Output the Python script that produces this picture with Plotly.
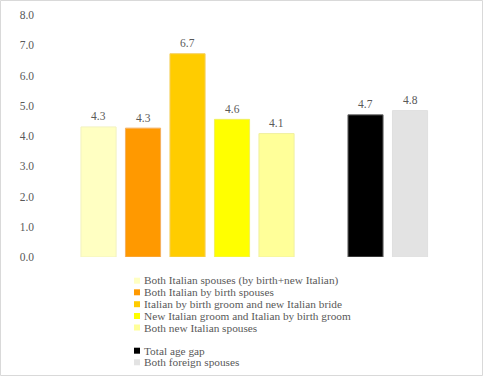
import plotly.graph_objects as go

# ---- data ----
categories = [
    "Both Italian spouses (by birth+new Italian)",
    "Both Italian by birth spouses",
    "Italian by birth groom and new Italian bride",
    "New Italian groom and Italian by birth groom",
    "Both new Italian spouses",
    " ",
    "Total age gap",
    "Both foreign spouses",
]
values = [4.3, 4.26, 6.72, 4.55, 4.08, None, 4.7, 4.84]
value_labels = ["4.3", "4.3", "6.7", "4.6", "4.1", "", "4.7", "4.8"]
colors = ["#FFFFC2", "#FF9900", "#FFCC00", "#FFFF00", "#FFFF99", "#FFFFFF", "#000000", "#E3E3E3"]
line_colors = ["#F2F2C0", "#F5B060", "#F5D060", "#F0F060", "#F0F0A0", "#FFFFFF", "#6E6E6E", "#E0E0E0"]
tick_vals = [0, 1, 2, 3, 4, 5, 6, 7, 8]
tick_text = ["0.0", "1.0", "2.0", "3.0", "4.0", "5.0", "6.0", "7.0", "8.0"]

W, H = 483, 376
ML, MR, MT, MB = 40, 13, 15, 119
PW, PH = W - ML - MR, H - MT - MB

def px(p):
    return (p - ML) / PW

def py(q):
    return (H - MB - q) / PH

FONT = "Liberation Serif"
GREY = "#595959"

fig = go.Figure()
fig.add_trace(go.Bar(
    x=categories,
    y=values,
    marker=dict(color=colors, line=dict(color=line_colors, width=1)),
    showlegend=False,
    hoverinfo="x+y",
))

shapes = []
annotations = []

# value labels above the bars
for cat, v, lab in zip(categories, values, value_labels):
    if v is None:
        continue
    annotations.append(dict(text=lab, x=cat, y=v, xref="x", yref="y",
                            yshift=10.5, showarrow=False, yanchor="middle",
                            font=dict(family=FONT, size=11.5, color=GREY)))

# custom legend (compact, like the reference)
legend_rows = [280.7, 292.3, 304.2, 316.0, 327.5, None, 350.7, 362.3]
for name, col, row in zip(categories, colors, legend_rows):
    if row is None:
        continue
    shapes.append(dict(type="rect", xref="paper", yref="paper",
                       x0=px(134), x1=px(140), y0=py(row + 3), y1=py(row - 3),
                       fillcolor=col, line=dict(width=0)))
    annotations.append(dict(text=name, xref="paper", yref="paper",
                            x=px(142), y=py(row), xanchor="left", yanchor="middle",
                            showarrow=False,
                            font=dict(family=FONT, size=11.3, color=GREY)))

# outer border of the chart
shapes.append(dict(type="rect", xref="paper", yref="paper",
                   x0=px(0.5), x1=px(482.5), y0=py(375.5), y1=py(0.5),
                   line=dict(color="#D9D9D9", width=1), fillcolor="rgba(0,0,0,0)"))

fig.update_layout(
    width=W, height=H,
    margin=dict(l=ML, r=MR, t=MT, b=MB),
    paper_bgcolor="white", plot_bgcolor="white",
    bargap=0.21,
    shapes=shapes,
    annotations=annotations,
    xaxis=dict(type="category", categoryorder="array", categoryarray=categories,
               range=[-1.315, 8.348], showticklabels=False, showline=False,
               showgrid=False, zeroline=False, ticks="", automargin=False),
    yaxis=dict(range=[0, 8], tickvals=tick_vals, ticktext=tick_text,
               showgrid=False, zeroline=False, showline=False,
               ticks="", ticklabelstandoff=5, automargin=False,
               tickfont=dict(family=FONT, size=11.5, color=GREY)),
)

fig.write_html("out.html")
